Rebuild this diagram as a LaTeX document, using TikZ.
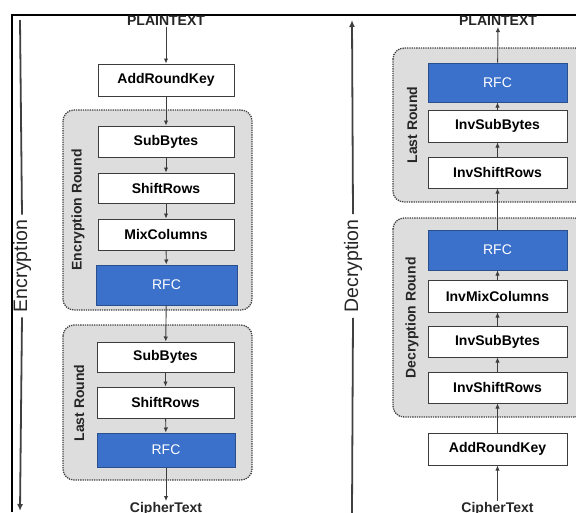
\documentclass[tikz,border=0pt]{standalone}
\usepackage{fontspec}
\setmainfont{Liberation Sans}
\usetikzlibrary{arrows.meta,shadows}
\definecolor{rfcblue}{RGB}{59,113,202}
\definecolor{grpfill}{RGB}{221,221,221}
\definecolor{edge}{RGB}{60,60,60}
\tikzset{
  opbox/.style={draw=edge, line width=1pt, fill=white, inner sep=0pt,
    minimum width=137pt, minimum height=31pt,
    font=\fontsize{14}{16}\selectfont\bfseries,
    drop shadow={shadow xshift=1.3pt, shadow yshift=-1.3pt, fill=black!60, opacity=.6}},
  rfcbox/.style={opbox, fill=rfcblue, draw=rfcblue!70!black, text=white,
    font=\fontsize{14}{16}\selectfont},
  grp/.style={fill=grpfill, draw=black!75, densely dotted, line width=1.3pt, rounded corners=11pt},
  grplabel/.style={rotate=90, font=\fontsize{14}{16}\selectfont\bfseries, text=black!85},
  sidelabel/.style={rotate=90, font=\fontsize{19.5}{22}\selectfont, text=black!85, inner sep=5pt},
  endtext/.style={font=\fontsize{14}{16}\selectfont\bfseries, text=black!85, inner sep=1pt},
  flow/.style={draw=edge, line width=0.9pt, -{Latex[length=5pt,width=4.5pt]}},
  sideline/.style={draw=black!75, line width=1.8pt},
}
\begin{document}
\begin{tikzpicture}[x=1pt,y=-1pt]
\useasboundingbox (0,0) rectangle (576,512);
\clip (0,0) rectangle (576,512);
% frame
\draw[line width=1.3pt] (12,512) -- (12,15) -- (577,15);
% groups
\draw[grp] (63,110) rectangle (252,310);
\draw[grp] (63,325) rectangle (252,480);
\draw[grp] (393,48) rectangle (586,202);
\draw[grp] (393,218) rectangle (586,417);
\node[grplabel] (lenc) at (78,210) {Encryption Round};
\node[grplabel] (llast) at (79,403) {Last Round};
\node[grplabel] (rlast) at (412,125) {Last Round};
\node[grplabel] (rdec) at (412,318) {Decryption Round};
% side labels and lines
\node[sidelabel] (enc) at (22,266) {Encryption};
\coordinate (encTop) at (20,20);
\coordinate (encBot) at (20,511);
\draw[sideline] (enc.east) -- (encTop);
\draw[sideline, -{Latex[length=7pt,width=6pt]}] (enc.west) -- (encBot);
\node[sidelabel] (dec) at (353,266) {Decryption};
\coordinate (decTop) at (352,20);
\coordinate (decBot) at (352,513);
\draw[sideline, -{Latex[length=7pt,width=6pt]}] (dec.east) -- (decTop);
\draw[sideline] (dec.west) -- (decBot);
% left column
\node[endtext] (pl) at (166,21) {PLAINTEXT};
\node[opbox, minimum width=136pt, minimum height=32pt] (ark1) at (166,80) {AddRoundKey};
\node[opbox, minimum width=136pt] (sb1) at (166,141.5) {SubBytes};
\node[opbox, minimum width=136pt, minimum height=30pt] (sr1) at (166,188) {ShiftRows};
\node[opbox, minimum width=136pt] (mc1) at (166,234.5) {MixColumns};
\node[rfcbox, minimum width=141pt, minimum height=40pt] (rfc1) at (166.5,285) {RFC};
\node[opbox, minimum height=30pt] (sb2) at (165.5,357) {SubBytes};
\node[opbox] (sr2) at (165.5,402.5) {ShiftRows};
\node[rfcbox, minimum width=138pt, minimum height=34pt] (rfc2) at (166,450) {RFC};
\node[endtext, anchor=north] (ct1) at (166,501) {CipherText};
\draw[flow] (pl) -- (ark1);
\draw[flow] (ark1) -- (sb1);
\draw[flow] (sb1) -- (sr1);
\draw[flow] (sr1) -- (mc1);
\draw[flow] (mc1) -- (rfc1);
\draw[flow] (rfc1) -- (sb2);
\draw[flow] (sb2) -- (sr2);
\draw[flow] (sr2) -- (rfc2);
\draw[flow] (rfc2) -- (ct1);
% right column
\node[endtext] (pr) at (498,21) {PLAINTEXT};
\node[rfcbox, minimum width=139pt, minimum height=39pt] (rfc3) at (497.5,82.5) {RFC};
\node[opbox, minimum width=139pt, minimum height=32pt] (isb1) at (497.5,126) {InvSubBytes};
\node[opbox, minimum width=139pt] (isr1) at (497.5,172.5) {InvShiftRows};
\node[rfcbox, minimum width=139pt, minimum height=40pt] (rfc4) at (497.5,250) {RFC};
\node[opbox, minimum width=139pt, minimum height=32pt] (imc) at (497.5,296) {InvMixColumns};
\node[opbox, minimum width=139pt] (isb2) at (497.5,341.5) {InvSubBytes};
\node[opbox, minimum width=139pt] (isr2) at (497.5,387.5) {InvShiftRows};
\node[opbox, minimum width=139pt, minimum height=32pt] (ark2) at (497.5,449) {AddRoundKey};
\node[endtext, anchor=north] (ct2) at (497.5,501) {CipherText};
\draw[flow] (ct2) -- (ark2);
\draw[flow] (ark2) -- (isr2);
\draw[flow] (isr2) -- (isb2);
\draw[flow] (isb2) -- (imc);
\draw[flow] (imc) -- (rfc4);
\draw[flow] (rfc4) -- (isr1);
\draw[flow] (isr1) -- (isb1);
\draw[flow] (isb1) -- (rfc3);
\draw[flow] (rfc3) -- (pr);
\end{tikzpicture}
\end{document}
